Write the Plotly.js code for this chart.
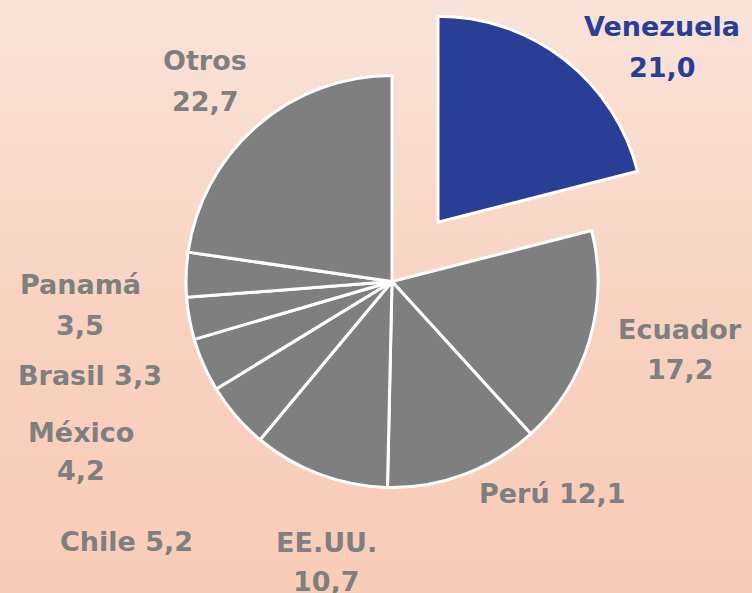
<!DOCTYPE html>
<html>
<head>
<meta charset="utf-8">
<script src="https://cdn.plot.ly/plotly-3.0.1.min.js"></script>
<style>
  html, body { margin: 0; padding: 0; }
  body { width: 752px; height: 593px; background: linear-gradient(to bottom, #f9e3d9 0%, #f8d2c0 55%, #f8ccb7 100%); }
  #chart { width: 752px; height: 593px; }
</style>
</head>
<body>
<div id="chart"></div>
<script>
// Data
var countries = ["Venezuela", "Ecuador", "Perú", "EE.UU.", "Chile", "México", "Brasil", "Panamá", "Otros"];
var shares = [21.0, 17.2, 12.1, 10.7, 5.2, 4.2, 3.3, 3.5, 22.7];

// Styling
var sliceColors = ["#283f95", "#7f7f7f", "#7f7f7f", "#7f7f7f", "#7f7f7f", "#7f7f7f", "#7f7f7f", "#7f7f7f", "#7f7f7f"];
var textColors = ["#283f95", "#7f7f7f", "#7f7f7f", "#7f7f7f", "#7f7f7f", "#7f7f7f", "#7f7f7f", "#7f7f7f", "#7f7f7f"];
var pulls = [0.364, 0, 0, 0, 0, 0, 0, 0, 0];

// Label layout (pixel centers): [x, y of first line, y of second line or null]
var labelSingleLine = [false, false, true, false, true, false, true, false, false];
var labelPos = [
  [662, 27, 68],
  [680, 329, 369],
  [552, 493, null],
  [326, 542, 581],
  [127, 541, null],
  [81, 432, 471],
  [90, 375, null],
  [80, 284, 325],
  [205, 60, 101]
];

function fmt(v) { return v.toFixed(1).replace(".", ","); }

var W = 752, H = 593;
var annotations = [];
countries.forEach(function (c, i) {
  var p = labelPos[i];
  var font = { family: "DejaVu Sans", size: 27, color: textColors[i], weight: "bold" };
  if (labelSingleLine[i]) {
    annotations.push({ text: "<b>" + c + " " + fmt(shares[i]) + "</b>", x: p[0] / W, y: 1 - p[1] / H,
      xref: "paper", yref: "paper", showarrow: false, xanchor: "center", yanchor: "middle", font: font });
  } else {
    annotations.push({ text: "<b>" + c + "</b>", x: p[0] / W, y: 1 - p[1] / H,
      xref: "paper", yref: "paper", showarrow: false, xanchor: "center", yanchor: "middle", font: font });
    annotations.push({ text: "<b>" + fmt(shares[i]) + "</b>", x: p[0] / W, y: 1 - p[2] / H,
      xref: "paper", yref: "paper", showarrow: false, xanchor: "center", yanchor: "middle", font: font });
  }
});

var trace = {
  type: "pie",
  labels: countries,
  values: shares,
  sort: false,
  direction: "clockwise",
  rotation: 0,
  pull: pulls,
  textinfo: "none",
  hoverinfo: "label+value",
  marker: { colors: sliceColors, line: { color: "#ffffff", width: 3 } },
  domain: { x: [111 / W, 673 / W], y: [(H - 563) / H, 1] },
  showlegend: false
};

var layout = {
  width: W, height: H,
  margin: { l: 0, r: 0, t: 0, b: 0 },
  paper_bgcolor: "rgba(0,0,0,0)",
  plot_bgcolor: "rgba(0,0,0,0)",
  showlegend: false,
  annotations: annotations
};

Plotly.newPlot("chart", [trace], layout, { displayModeBar: false, staticPlot: true });
</script>
</body>
</html>
